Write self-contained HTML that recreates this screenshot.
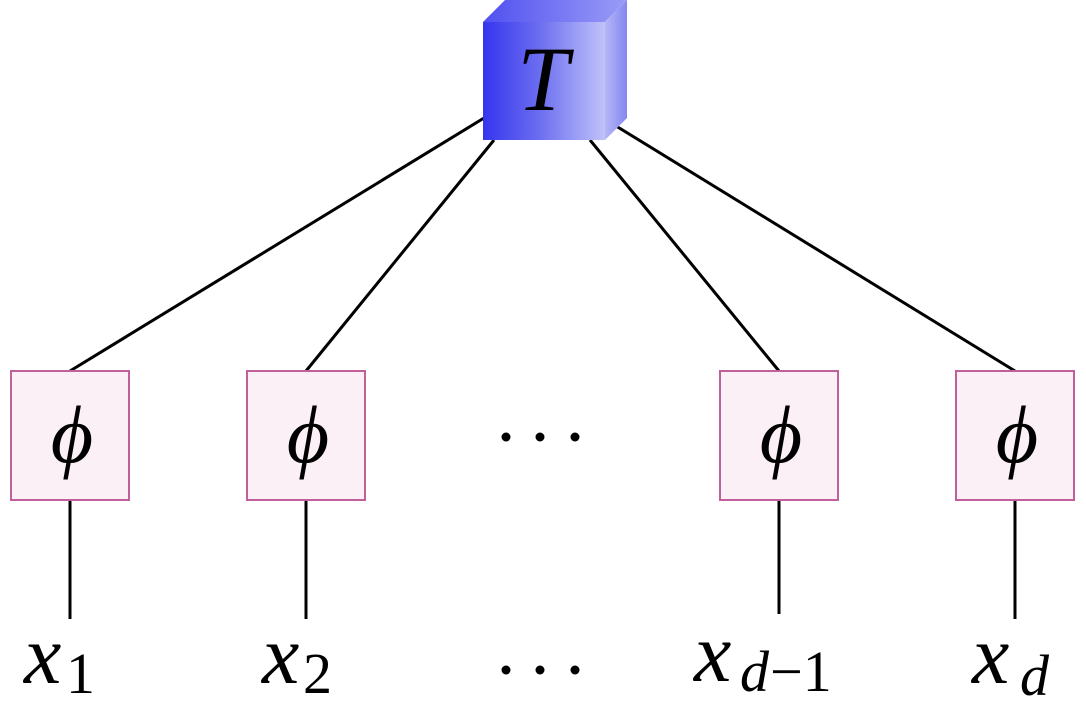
<!DOCTYPE html>
<html><head><meta charset="utf-8"><style>
html,body{margin:0;padding:0;background:#fff;}
svg{display:block}
text{font-family:"Liberation Serif",serif;fill:#000}
</style></head><body>
<svg width="1086" height="728" viewBox="0 0 1086 728" xmlns="http://www.w3.org/2000/svg">
<defs>
<linearGradient id="front" x1="0" x2="1" y1="0" y2="0">
<stop offset="0" stop-color="#3535ee"/><stop offset="0.45" stop-color="#6a6cf0"/><stop offset="1" stop-color="#c0c2fa"/>
</linearGradient>
<linearGradient id="top" x1="0" x2="1" y1="0" y2="0">
<stop offset="0" stop-color="#5050f0"/><stop offset="1" stop-color="#9a9cf6"/>
</linearGradient>
<linearGradient id="side" x1="0" x2="1" y1="0" y2="0">
<stop offset="0" stop-color="#b5b7f8"/><stop offset="1" stop-color="#8486ef"/>
</linearGradient>
</defs>
<g stroke="#000" stroke-width="3" fill="none">
<line x1="484" y1="118" x2="70" y2="371"/>
<line x1="494" y1="140" x2="306" y2="371"/>
<line x1="590" y1="140" x2="779" y2="371"/>
<line x1="616" y1="126" x2="1015" y2="371"/>
<line x1="70" y1="500" x2="70" y2="619"/>
<line x1="306" y1="500" x2="306" y2="619"/>
<line x1="779" y1="500" x2="779" y2="614"/>
<line x1="1015" y1="500" x2="1015" y2="619"/>
</g>
<polygon points="483,22 505,0 627,0 605,22" fill="url(#top)"/>
<polygon points="605,22 627,0 627,118 605,140" fill="url(#side)"/>
<rect x="483" y="22" width="122" height="118" fill="url(#front)"/>
<text x="543" y="110" font-size="92" font-style="italic" text-anchor="middle">T</text>
<g fill="#fcf0f7" stroke="#c0609a" stroke-width="2">
<rect x="11" y="371" width="118" height="129"/>
<rect x="247" y="371" width="118" height="129"/>
<rect x="720" y="371" width="118" height="129"/>
<rect x="956" y="371" width="118" height="129"/>
</g>
<g font-size="82" font-style="italic" text-anchor="middle">
<text x="72" y="462">ϕ</text>
<text x="308" y="462">ϕ</text>
<text x="781" y="462">ϕ</text>
<text x="1017" y="462">ϕ</text>
</g>
<g fill="#000">
<circle cx="506" cy="437" r="4.5"/><circle cx="540" cy="437" r="4.5"/><circle cx="575" cy="437" r="4.5"/>
<circle cx="506" cy="670" r="4.5"/><circle cx="540" cy="670" r="4.5"/><circle cx="575" cy="670" r="4.5"/>
</g>
<g font-size="84" font-style="italic">
<text x="24" y="683">x</text>
<text x="262" y="683">x</text>
<text x="694" y="681">x</text>
<text x="972" y="683">x</text>
</g>
<g font-size="58">
<text x="66" y="693">1</text>
<text x="303" y="693">2</text>
<text x="740" y="691" font-style="italic">d</text>
<text x="770" y="691">−1</text>
<text x="1020" y="695" font-style="italic">d</text>
</g>
</svg>
</body></html>
